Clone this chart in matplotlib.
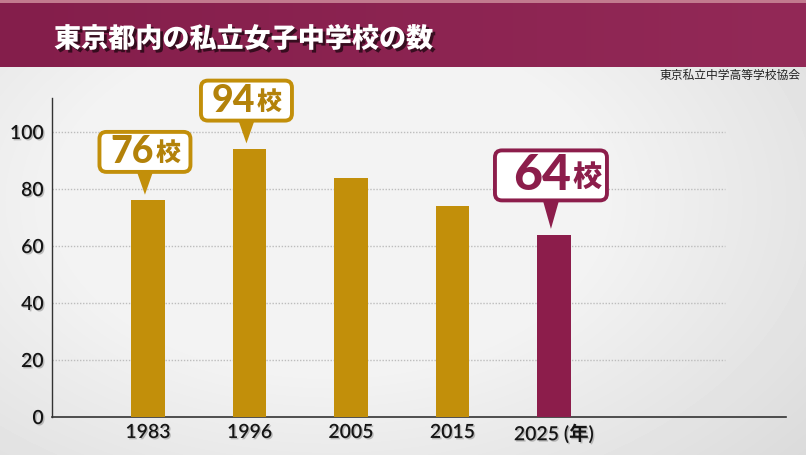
import numpy as np
import matplotlib
matplotlib.use("Agg")
import matplotlib.pyplot as plt
from matplotlib.patches import FancyBboxPatch, Polygon, Rectangle
import matplotlib.patheffects as pe

plt.rcParams['font.family'] = ['Noto Sans CJK JP', 'DejaVu Sans']

years = ['1983', '1996', '2005', '2015', '2025']
counts = [76, 94, 84, 74, 64]
callout_idx = [0, 1, 4]
callout_labels = ['76', '94', '64']
unit_label = '校'
title = '東京都内の私立女子中学校の数'
source = '東京私立中学高等学校協会'
year_unit = '(年)'

GOLD = '#c28f0a'
GOLD_TXT = '#b3820a'
MAROON = '#8c1d4b'

W, H = 806, 455
fig = plt.figure(figsize=(W / 100, H / 100), dpi=100)

# background
bg = fig.add_axes([0, 0, 1, 1])
bg.set_axis_off()
yy, xx = np.mgrid[0:H, 0:W]
r = np.sqrt(((xx - 330) / 520.0) ** 2 + ((yy - 200) / 330.0) ** 2)
shade = 0.955 - 0.14 * np.clip(r - 0.5, 0, None)
bg.imshow(shade, cmap='gray', vmin=0, vmax=1, extent=[0, W, H, 0], aspect='auto')
bg.set_xlim(0, W)
bg.set_ylim(H, 0)
# banner
g = np.linspace(0, 1, W)[:, None]
banner = np.zeros((1, W, 3))
c1 = np.array([0x84, 0x1e, 0x4b]) / 255
c2 = np.array([0x93, 0x29, 0x57]) / 255
banner[0] = c1 * (1 - g) + c2 * g
bg.imshow(banner, extent=[0, W, 67, 3], aspect='auto')
bg.add_patch(Rectangle((0, 0), W, 3, color='#c27a8e', lw=0))
bg.text(54, 39, title, color='white', fontsize=19.5, fontweight='black',
        va='center', ha='left',
        path_effects=[pe.withSimplePatchShadow(offset=(2, -2), shadow_rgbFace='black', alpha=0.6)])
bg.text(801, 75, source, color='#222222', fontsize=8.5, va='center', ha='right')

# main axes
ax_l, ax_r = 52, 786
ax_b, ax_t = 417, 97.8
ax = fig.add_axes([ax_l / W, 1 - ax_b / H, (ax_r - ax_l) / W, (ax_b - ax_t) / H])
ax.patch.set_alpha(0)
x = np.arange(len(years))
xpx0, dx = 148, 101.5
ax.set_xlim((ax_l - xpx0) / dx, (ax_r - xpx0) / dx)
ax.set_ylim(0, 112)

colors = [GOLD] * 4 + [MAROON]
ax.bar(x, counts, width=0.33, color=colors, zorder=3)

grid_end = (725 - xpx0) / dx
for v in [20, 40, 60, 80, 100]:
    ax.hlines(v, ax.get_xlim()[0], grid_end, colors='#bdbdbd', linestyles=(0, (1, 1.2)),
              lw=1.0, zorder=1)

for s in ['top', 'right']:
    ax.spines[s].set_visible(False)
ax.spines['left'].set_color('#333333')
ax.spines['bottom'].set_color('#333333')
ax.spines['left'].set_linewidth(1.0)
ax.spines['bottom'].set_linewidth(1.2)

shadow = [pe.withSimplePatchShadow(offset=(1, -1), shadow_rgbFace='#888888', alpha=0.5)]
num_font = ['Lato', 'Noto Sans CJK JP', 'DejaVu Sans']
ax.set_yticks([0, 20, 40, 60, 80, 100])
ax.set_yticklabels(['0', '20', '40', '60', '80', '100'], fontsize=14,
                   family=num_font, fontweight='semibold', color='#151515')
xlabels = years[:-1] + [years[-1] + ' ' + year_unit]
ax.set_xticks(x)
ax.set_xticklabels(xlabels, fontsize=14, family=num_font,
                   fontweight='semibold', color='#151515')
ax.tick_params(axis='both', length=0, pad=6)
ax.tick_params(axis='x', pad=5)
for t in ax.get_xticklabels() + ax.get_yticklabels():
    t.set_path_effects(shadow)

# callouts
ypx = (ax_b - ax_t) / 112.0  # pixels per data unit
aspect = dx / ypx

for i, lab in zip(callout_idx, callout_labels):
    v = counts[i]
    big = (i == 4)
    bw = (112 if big else 91) / dx
    bh = (50 if big else 40) / ypx
    col = MAROON if big else GOLD
    tcol = MAROON if big else GOLD_TXT
    cx = i - 0.03
    bottom = v + (12 if big else 10)
    tip = v + 2
    tw = 8.5 / dx
    ax.add_patch(Polygon([[cx - tw, bottom + 0.5], [cx + tw, bottom + 0.5], [cx, tip]],
                         closed=True, color=col, lw=0, zorder=4, clip_on=False))
    box = FancyBboxPatch((cx - bw / 2, bottom), bw, bh,
                         boxstyle='round,pad=0,rounding_size=%f' % (7 / dx),
                         mutation_aspect=aspect, fc='white', ec=col, lw=2.8, zorder=5,
                         clip_on=False)
    ax.add_patch(box)
    split = cx + (20 if big else 9) / dx
    ymid = bottom + bh / 2
    ax.text(split, ymid - 0.2, lab, fontsize=(36 if big else 27), color=tcol,
            family=num_font, fontweight='black', ha='right', va='center',
            zorder=6, clip_on=False)
    ax.text(split + 1.5 / dx, ymid - 0.5, unit_label, fontsize=(21 if big else 18), color=tcol,
            fontweight='black', ha='left', va='center', zorder=6, clip_on=False)

fig.savefig('out.png', dpi=100)
